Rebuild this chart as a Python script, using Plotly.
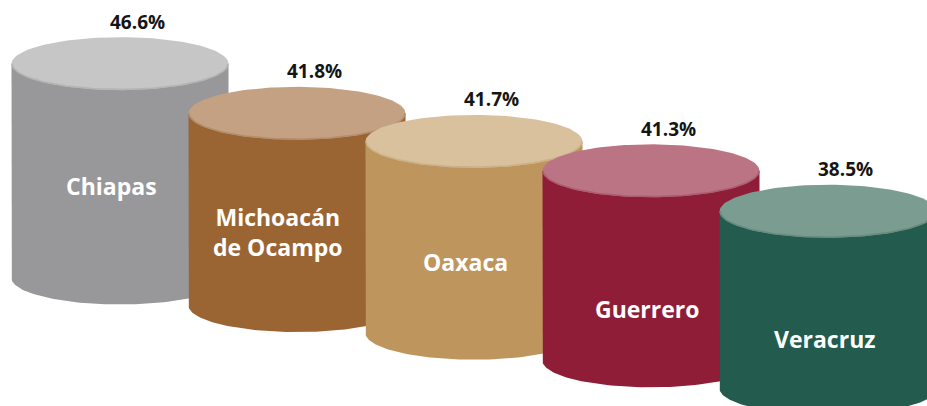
import numpy as np
import plotly.graph_objects as go

# ---- data ----
states = ["Chiapas", "Michoacán<br>de Ocampo", "Oaxaca", "Guerrero", "Veracruz"]
values = [46.6, 41.8, 41.7, 41.3, 38.5]
value_labels = ["46.6%", "41.8%", "41.7%", "41.3%", "38.5%"]

# ---- style ----
body_colors = ["#98989A", "#9A6533", "#BE955C", "#8F1D38", "#235C4E"]
top_colors = ["#C6C6C6", "#C4A183", "#D9C19E", "#BB7484", "#7B9D91"]
rim_colors = ["#B4B4B4", "#B38E6C", "#CCB088", "#A95F70", "#688B7E"]
name_frac = [0.43, 0.385, 0.372, 0.273, 0.279]   # label height inside cylinder
name_dx = [-0.05, -0.11, -0.05, -0.02, -0.02]    # label horizontal nudge

W, H = 927, 406
PX_PER_UNIT = 4.6            # vertical scale (pixels per percentage point)
ZERO_PX = 278                # pixel row of value 0 for first cylinder
STEP_PX = 177                # horizontal spacing between cylinders
FIRST_PX = 120               # pixel column of first cylinder
HALF_W = 108.5 / STEP_PX     # cylinder half width in x units
RY = 26.5 / PX_PER_UNIT      # ellipse vertical radius in y units
DROP = 6.0                   # each cylinder base drops by this many units

yr = [-(H - ZERO_PX) / PX_PER_UNIT, ZERO_PX / PX_PER_UNIT]
xr = [-FIRST_PX / STEP_PX, (W - FIRST_PX) / STEP_PX]

fig = go.Figure()
t = np.linspace(0, np.pi, 80)
full = np.linspace(0, 2 * np.pi, 160)

for i, v in enumerate(values):
    base = -DROP * i
    top = base + v
    bx = np.concatenate([[i - HALF_W], i - HALF_W * np.cos(t), [i + HALF_W]])
    by = np.concatenate([[top], base - RY * np.sin(t), [top]])
    fig.add_trace(go.Scatter(x=bx, y=by, fill="toself", mode="lines",
                             line=dict(width=0, color=body_colors[i]),
                             fillcolor=body_colors[i], hoverinfo="skip",
                             showlegend=False))
    ex = i + HALF_W * np.cos(full)
    ey = top + RY * np.sin(full)
    fig.add_trace(go.Scatter(x=ex, y=ey, fill="toself", mode="lines",
                             line=dict(width=0, color=top_colors[i]),
                             fillcolor=top_colors[i], hoverinfo="skip",
                             showlegend=False))
    rx = i + HALF_W * np.cos(t) * 0.995
    ry = top - RY * np.sin(t) * 0.97
    fig.add_trace(go.Scatter(x=rx, y=ry, mode="lines",
                             line=dict(width=1.5, color=rim_colors[i]),
                             hoverinfo="skip", showlegend=False))

for i, v in enumerate(values):
    base = -DROP * i
    top = base + v
    fig.add_annotation(x=i + 0.1, y=top + RY + 3.4, text="<b>" + value_labels[i] + "</b>",
                       showarrow=False, font=dict(family="Open Sans", size=19, color="#151515"))
    fig.add_annotation(x=i + name_dx[i], y=base + v * name_frac[i],
                       text="<b>" + states[i] + "</b>", showarrow=False,
                       font=dict(family="Open Sans", size=23, color="white"),
                       align="center")

fig.update_layout(
    width=W, height=H,
    margin=dict(l=0, r=0, t=0, b=0),
    paper_bgcolor="white", plot_bgcolor="white",
    xaxis=dict(range=xr, visible=False, fixedrange=True),
    yaxis=dict(range=yr, visible=False, fixedrange=True),
    showlegend=False,
)

fig.write_html("out.html",
               config={"displayModeBar": False, "staticPlot": True},
               post_script="document.body.style.margin='0';document.body.style.overflow='hidden';")
